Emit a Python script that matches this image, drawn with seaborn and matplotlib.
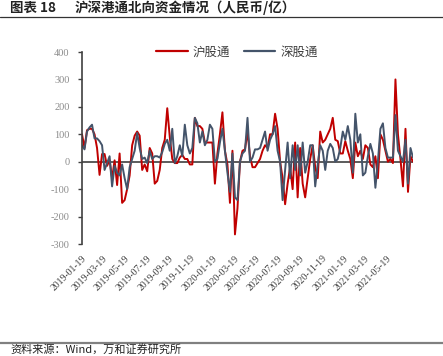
import numpy as np
import pandas as pd
import seaborn as sns
import matplotlib.pyplot as plt
from matplotlib.lines import Line2D

# weekly northbound net flow, 100m RMB
hu = [100, 50, 115, 120, 120, 100, 50, -48, 28, 28, -15, 5, -60, 5, -85, 30,
      -150, -140, -100, -50, 60, 95, 110, 95, -30, -10, -35, 50, 30, -80, -70, -30,
      50, 80, 195, 90, 10, -5, -5, 15, 25, 10, 10, -10, -10, 160, 130, 130,
      120, 70, 70, 70, 70, -80, 30, 100, 180, 40, -10, -150, 40, -265, -170, 0,
      40, 45, 110, 20, -20, -20, -5, 10, 40, 60, 50, 100, 100, 175, 120, 0,
      -60, -155, -80, -20, -100, 70, -130, 50, -80, -130, -60, 10, 60, -20, -60, 110,
      70, 80, 100, 120, 160, 80, 75, 30, 30, 75, 40, 10, -60, 70, 20, 40,
      10, 60, 50, -10, -20, 20, -60, 100, 80, 40, 0, 10, -5, 300, 100, 10,
      -90, 120, -110, 20, 0]
shen = [60, 45, 110, 125, 135, 85, 85, 75, 60, -30, -5, 20, -90, -15, -40, -50,
        -10, -60, -100, -20, 10, 40, 105, 50, 10, 15, -5, 40, 10, 20, 20, 15,
        35, 65, 80, 40, 120, -5, 20, 60, 20, 135, 60, 30, 50, 160, 140, 70,
        110, 60, 80, 135, 120, 0, 10, 70, 120, 40, -40, -110, 30, -130, -140, 0,
        30, 40, 160, 0, 15, 45, 45, 50, 80, 110, 40, 80, 100, 130, 40, 0,
        -140, -30, 70, -60, 60, -30, 60, -50, 70, -40, 0, 60, 60, -90, -10, 60,
        40, -30, 40, 65, 50, 0, 10, 50, 110, 80, 130, 80, -40, 175, 70, 100,
        -50, -40, 20, 65, 30, -95, 0, 120, 140, 50, 15, 15, 15, 170, 40, 20,
        0, 80, -80, 50, 15]
series_names = ['沪股通', '深股通']
colors = ['#C00000', '#44546A']
y_ticks = [-300, -200, -100, 0, 100, 200, 300, 400]

dates = pd.date_range('2019-01-19', periods=len(hu), freq='7D')
tick_dates = pd.date_range('2019-01-19', '2021-05-19', freq=pd.DateOffset(months=2))

df = pd.DataFrame({
    'date': list(dates) * 2,
    'value': hu + shen,
    'series': [series_names[0]] * len(hu) + [series_names[1]] * len(shen),
})

sns.set_theme(style='white')
plt.rcParams['font.family'] = ['Noto Sans CJK SC', 'DejaVu Sans']

fig = plt.figure(figsize=(4.43, 3.56), dpi=100)
ax = fig.add_axes([82 / 443, 1 - 244 / 356, (413 - 82) / 443, (244 - 52) / 356])

ax.axhline(0, color='#404040', lw=1.2, zorder=1.5)
sns.lineplot(data=df, x='date', y='value', hue='series',
             palette=dict(zip(series_names, colors)), linewidth=1.4,
             ax=ax, legend=False, sort=False)

ax.set_xlim(dates[0], dates[-1])
ax.set_ylim(-300, 400)
ax.set_yticks(y_ticks)
ax.set_yticklabels([str(v) for v in y_ticks], fontfamily='Liberation Serif',
                   fontsize=7.5, color='#8c8c8c')
ax.set_xticks(tick_dates)
ax.set_xticklabels([d.strftime('%Y-%m-%d') for d in tick_dates],
                   fontfamily='Liberation Serif', fontsize=7.0, color='#404040',
                   rotation=45, ha='right', va='top', rotation_mode='anchor')
ax.tick_params(axis='x', length=0, pad=7)
ax.tick_params(axis='y', direction='out', length=3, width=1, color='#404040',
               left=True, pad=6)
ax.set_xlabel('')
ax.set_ylabel('')
for side in ['top', 'right', 'bottom']:
    ax.spines[side].set_visible(False)
ax.spines['left'].set_color('#404040')
ax.spines['left'].set_linewidth(1.2)
ax.grid(False)

handles = [Line2D([], [], color=c, lw=1.6) for c in colors]
fig.legend(handles, series_names, loc='center', bbox_to_anchor=(237 / 443, 1 - 52 / 356),
           ncol=2, frameon=False, fontsize=9, handlelength=2.5, handletextpad=0.4,
           columnspacing=1.1, labelcolor='#404040')

# title, rules and source note
fig.text(10 / 443, 1 - 8 / 356, '图表 18', fontsize=9.7, fontweight='bold',
         ha='left', va='center', color='#222222')
fig.text(75 / 443, 1 - 8 / 356, '沪深港通北向资金情况（人民币/亿）', fontsize=9.7,
         fontweight='bold', ha='left', va='center', color='#222222')
fig.add_artist(Line2D([0, 1], [1 - 16.5 / 356] * 2, color='#333333', lw=0.9))
fig.add_artist(Line2D([0, 1], [1 - 343 / 356] * 2, color='#808080', lw=1.6))
fig.text(10 / 443, 1 - 355 / 356, '资料来源：Wind，万和证券研究所', fontsize=8,
         ha='left', va='bottom', color='#222222')

fig.savefig('out.png', dpi=100)
